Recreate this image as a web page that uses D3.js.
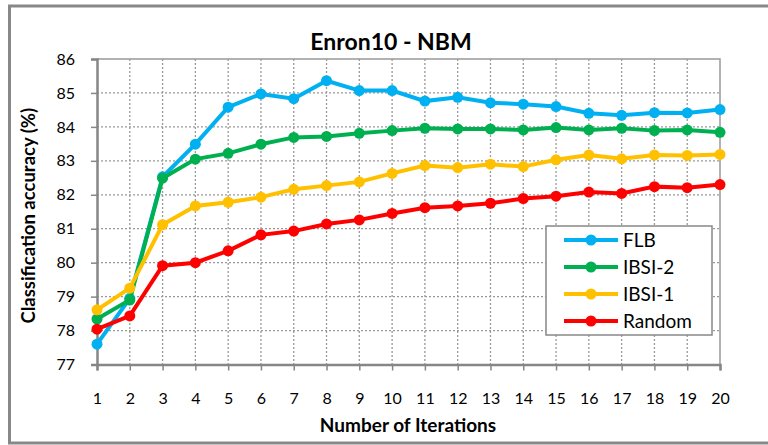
<!DOCTYPE html>
<html>
<head>
<meta charset="utf-8">
<script src="https://cdn.jsdelivr.net/npm/d3@7"></script>
<style>
  body { margin: 0; background: #fff; }
  text { font-family: Lato, "Liberation Sans", sans-serif; }
</style>
</head>
<body>
<div id="chart"></div>
<script>
'use strict';

var iterations = d3.range(1, 21);
var yTicks = [77, 78, 79, 80, 81, 82, 83, 84, 85, 86];

var flb = [77.60, 78.95, 82.53, 83.49, 84.58, 84.97, 84.83, 85.36, 85.07, 85.07,
  84.76, 84.87, 84.71, 84.67, 84.60, 84.40, 84.34, 84.42, 84.41, 84.51];
var ibsi2 = [78.34, 78.90, 82.49, 83.05, 83.22, 83.49, 83.69, 83.72, 83.81, 83.89,
  83.96, 83.94, 83.94, 83.91, 83.98, 83.91, 83.96, 83.89, 83.91, 83.84];
var ibsi1 = [78.61, 79.25, 81.12, 81.67, 81.78, 81.93, 82.16, 82.27, 82.38, 82.63,
  82.86, 82.80, 82.90, 82.83, 83.03, 83.17, 83.06, 83.17, 83.16, 83.19];
var random = [78.04, 78.43, 79.91, 80.00, 80.35, 80.82, 80.93, 81.14, 81.26, 81.45,
  81.62, 81.67, 81.75, 81.89, 81.96, 82.08, 82.04, 82.24, 82.21, 82.30];

var series = [
  { name: 'FLB', color: '#00b0f0', values: flb },
  { name: 'IBSI-2', color: '#00b050', values: ibsi2 },
  { name: 'IBSI-1', color: '#ffc000', values: ibsi1 },
  { name: 'Random', color: '#ff0000', values: random }
];

var width = 768, height = 445;
var m = { left: 97, right: 720, top: 59, bottom: 364.5 };

var svg = d3.select('#chart').append('svg')
  .attr('width', width)
  .attr('height', height);

// outer frame
svg.append('rect')
  .attr('x', 9.5).attr('y', 6)
  .attr('width', 780).attr('height', 437)
  .attr('fill', '#fff')
  .attr('stroke', '#888').attr('stroke-width', 3);

var x = d3.scaleLinear().domain([1, 20]).range([m.left, m.right]);
var y = d3.scaleLinear().domain([77, 86]).range([m.bottom, m.top]);

// grid
var grid = svg.append('g');
grid.selectAll('.hg').data(yTicks.slice(1, -1)).enter().append('line')
  .attr('x1', m.left).attr('x2', m.right)
  .attr('y1', d => y(d)).attr('y2', d => y(d))
  .attr('stroke', '#999').attr('stroke-width', 1.3)
  .attr('stroke-dasharray', '2,2');
grid.selectAll('.vg').data(iterations.slice(1, -1)).enter().append('line')
  .attr('x1', d => x(d)).attr('x2', d => x(d))
  .attr('y1', m.top).attr('y2', m.bottom)
  .attr('stroke', '#999').attr('stroke-width', 1.3)
  .attr('stroke-dasharray', '2,2');

// plot border top/right
svg.append('path')
  .attr('d', 'M' + m.left + ',' + m.top + 'H' + m.right + 'V' + m.bottom)
  .attr('fill', 'none').attr('stroke', '#999').attr('stroke-width', 1.5);

// axes
var xAxis = svg.append('g')
  .attr('transform', 'translate(0,' + m.bottom + ')')
  .call(d3.axisBottom(x).tickValues(iterations).tickSize(6).tickPadding(22).tickFormat(d3.format('d')));
var yAxis = svg.append('g')
  .attr('transform', 'translate(' + m.left + ',0)')
  .call(d3.axisLeft(y).tickValues(yTicks).tickSize(6).tickPadding(16));

[xAxis, yAxis].forEach(function (a) {
  a.select('.domain').attr('stroke', '#868686').attr('stroke-width', 2.5);
  a.selectAll('.tick line').attr('stroke', '#868686').attr('stroke-width', 1.5);
  a.selectAll('.tick text').attr('font-size', 16).attr('fill', '#000')
    .attr('font-family', 'Lato, "Liberation Sans", sans-serif');
});

// lines
var line = d3.line()
  .x((d, i) => x(iterations[i]))
  .y(d => y(d));

series.forEach(function (s) {
  svg.append('path')
    .datum(s.values)
    .attr('d', line)
    .attr('fill', 'none')
    .attr('stroke', s.color)
    .attr('stroke-width', 4);
  svg.append('g').selectAll('circle')
    .data(s.values).enter().append('circle')
    .attr('cx', (d, i) => x(iterations[i]))
    .attr('cy', d => y(d))
    .attr('r', 5.5)
    .attr('fill', s.color);
});

// title and axis titles
svg.append('text')
  .attr('x', 391).attr('y', 50)
  .attr('text-anchor', 'middle')
  .attr('font-size', 23).attr('font-weight', 'bold')
  .text('Enron10 - NBM');

svg.append('text')
  .attr('x', 408).attr('y', 432)
  .attr('text-anchor', 'middle')
  .attr('font-size', 19).attr('font-weight', 'bold')
  .text('Number of Iterations');

svg.append('text')
  .attr('transform', 'translate(35,' + ((m.top + m.bottom) / 2 + 4) + ') rotate(-90)')
  .attr('text-anchor', 'middle')
  .attr('font-size', 18.5).attr('font-weight', 'bold')
  .text('Classification accuracy (%)');

// legend
var legend = svg.append('g');
legend.append('rect')
  .attr('x', 546).attr('y', 226)
  .attr('width', 166).attr('height', 109)
  .attr('fill', '#fff').attr('stroke', '#888').attr('stroke-width', 1.5);

var ly = d3.scalePoint().domain(series.map(s => s.name)).range([240, 321]);
series.forEach(function (s) {
  var g = legend.append('g').attr('transform', 'translate(0,' + ly(s.name) + ')');
  g.append('line').attr('x1', 564).attr('x2', 618)
    .attr('stroke', s.color).attr('stroke-width', 4);
  g.append('circle').attr('cx', 591).attr('r', 5.5).attr('fill', s.color);
  g.append('text').attr('x', 623).attr('y', 7)
    .attr('font-size', 19).text(s.name);
});
</script>
</body>
</html>
